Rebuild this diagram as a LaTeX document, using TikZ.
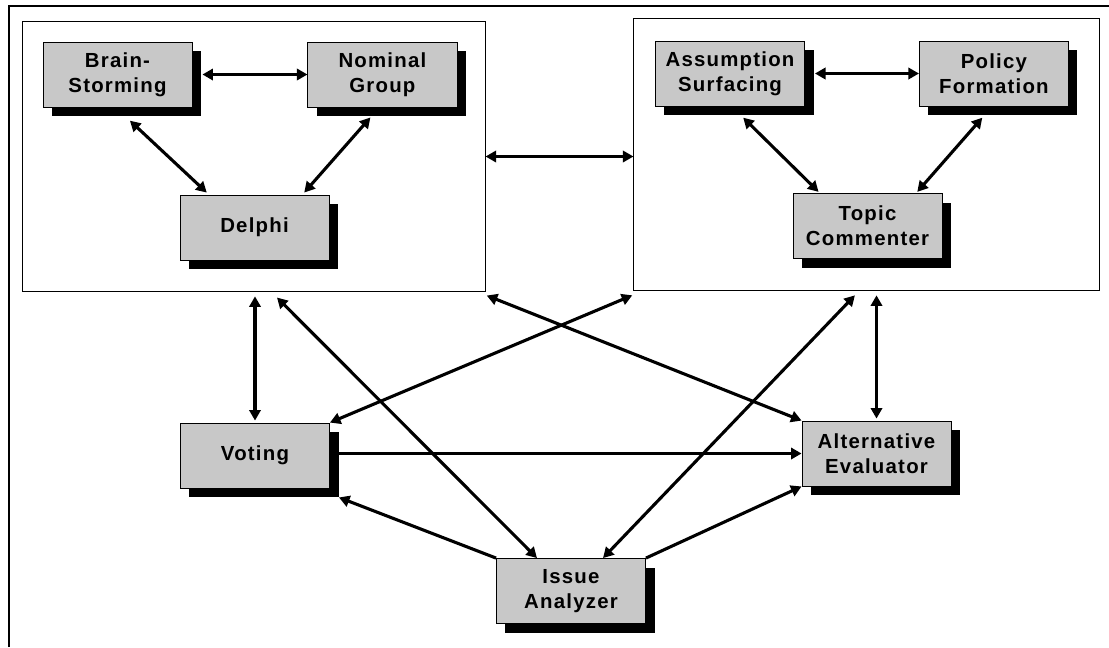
\documentclass[tikz,border=0pt]{standalone}
\usepackage{fontspec}
\usepackage{tikz}
\usetikzlibrary{arrows.meta,positioning,shadows}
\newfontfamily\boxfont{Liberation Sans}[LetterSpace=6]
\definecolor{boxgray}{RGB}{200,200,200}

\begin{document}
\begin{tikzpicture}[
      x=0.025cm, y=-0.025cm,
      >={Triangle[length=7.5pt,width=8pt]},
      tool/.style={draw, line width=0.6pt, fill=boxgray, inner sep=0pt,
                   minimum width=3.725cm, minimum height=1.625cm, align=center,
                   font=\boxfont\bfseries\fontsize{14.5}{18}\selectfont,
                   drop shadow={shadow xshift=0.225cm, shadow yshift=-0.225cm,
                                fill=black, opacity=1}},
      grp/.style={draw, line width=0.7pt, inner sep=0pt},
      arr/.style={->, line width=2.2pt},
      dbl/.style={<->, line width=2.2pt},
    ]
    \useasboundingbox (0,0) rectangle (1109,647);
    % --- frame ---
    \draw[line width=0.8pt] (9,647) |- (1109,6);

    % --- groups ---
    \node[grp, minimum width=11.55cm, minimum height=6.725cm] (left) at (254,156.5) {};
    \node[grp, minimum width=11.625cm, minimum height=6.775cm] (right) at (866.5,154.5) {};

    % --- boxes ---
    \node[tool] (bs) at (117.5,74.5) {Brain-\\Storming};
    \node[tool, right=2.875cm of bs] (ng) {Nominal\\Group};
    \node[tool] (delphi) at (254.5,227.5) {Delphi};
    \node[tool] (as) at (730,73.5) {Assumption\\Surfacing};
    \node[tool, right=2.85cm of as] (pf) {Policy\\Formation};
    \node[tool] (tc) at (867.5,226) {Topic\\Commenter};
    \node[tool] (voting) at (255,455.5) {Voting};
    \node[tool] (ae) at (876.5,453.5) {Alternative\\Evaluator};
    \node[tool] (ia) at (571,591) {Issue\\Analyzer};

    % --- inside the groups ---
    \draw[dbl] ([xshift=0.25cm]bs.east) -- (ng.west);
    \draw[dbl] ([shift={(0.31cm,-0.33cm)}]bs.south) -- ([shift={(0.68cm,0.05cm)}]delphi.north west);
    \draw[dbl] ([shift={(-0.3cm,-0.25cm)}]ng.south) -- ([shift={(-0.63cm,0.05cm)}]delphi.north east);
    \draw[dbl] ([xshift=0.25cm]as.east) -- (pf.west);
    \draw[dbl] ([shift={(0.33cm,-0.28cm)}]as.south) -- ([shift={(0.65cm,0.03cm)}]tc.north west);
    \draw[dbl] ([shift={(-0.29cm,-0.28cm)}]pf.south) -- ([shift={(-0.63cm,0.03cm)}]tc.north east);

    % --- between groups and tools ---
    \draw[dbl] (left.east) -- (left.east -| right.west);
    \draw[dbl, shorten <=0.05cm, shorten >=0.12cm] (voting.north) -- (voting.north |- left.south);
    \draw[dbl, shorten <=0.05cm, shorten >=0.12cm] (ae.north) -- (ae.north |- right.south);
    \draw[dbl] ([shift={(0.575cm,-0.15cm)}]left.south) -- ([xshift=-0.85cm]ia.north);
    \draw[dbl] ([shift={(0.03cm,-0.1cm)}]left.south east) -- (ae.north west);
    \draw[dbl] ([shift={(-0.03cm,-0.12cm)}]right.south west) -- (voting.north east);
    \draw[dbl] ([shift={(-0.29cm,-0.12cm)}]right.south) -- ([xshift=0.8cm]ia.north);
    \draw[arr] ([xshift=0.225cm]voting.east |- ae.west) -- (ae.west);
    \draw[arr] (ia.north west) -- ([shift={(0.225cm,-0.225cm)}]voting.south east);
    \draw[arr] (ia.north east) -- (ae.south west);
  \end{tikzpicture}
\end{document}
